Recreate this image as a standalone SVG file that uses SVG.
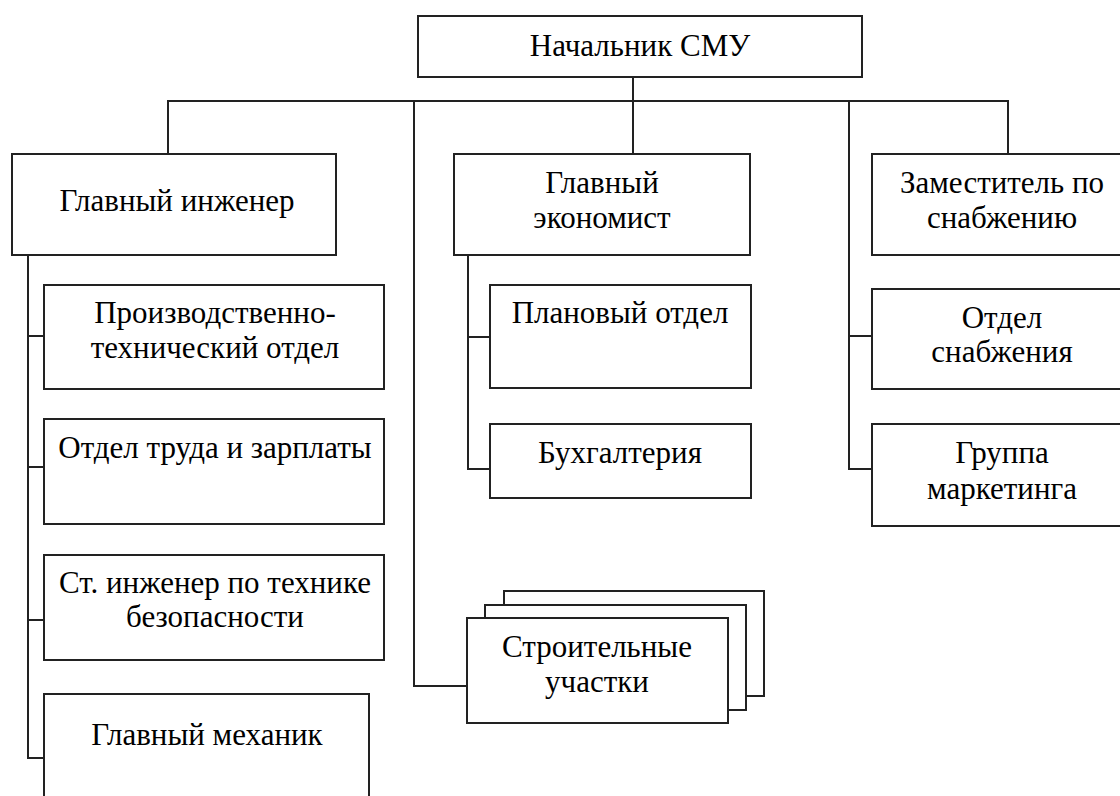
<svg xmlns="http://www.w3.org/2000/svg" width="1120" height="796" viewBox="0 0 1120 796">
<style>
.box{fill:#fff;stroke:#222;stroke-width:2}
.ln{fill:none;stroke:#222;stroke-width:2}
text{font-family:"Liberation Serif","Times New Roman",serif;font-size:31px;fill:#000;text-anchor:middle}
</style>
<rect width="1120" height="796" fill="#fff"/>
<g id="connectors">
<path class="ln" d="M633 77V101M168 154V101H1008V154M414 101V686H467M633 101V154M849 101V469H872M849 336H872"/>
<path class="ln" d="M28 255V758H44M28 336H44M28 467H44M28 620H44"/>
<path class="ln" d="M468 255V469H490M468 337H490"/>
</g>
<g id="n-head"><rect class="box" x="418" y="16" width="444" height="61"/><text x="640" y="56">Начальник СМУ</text></g>
<g id="n-engineer"><rect class="box" x="12" y="154" width="324" height="101"/><text x="177" y="211">Главный инженер</text></g>
<g id="n-economist"><rect class="box" x="454" y="154" width="296" height="101"/><text x="602" y="193">Главный</text><text x="602" y="228">экономист</text></g>
<g id="n-deputy"><rect class="box" x="872" y="154" width="262" height="101"/><text x="1002" y="193">Заместитель по</text><text x="1002" y="228">снабжению</text></g>
<g id="n-pto"><rect class="box" x="44" y="285" width="340" height="104"/><text x="215" y="323">Производственно-</text><text x="215" y="358">технический отдел</text></g>
<g id="n-labor"><rect class="box" x="44" y="419" width="340" height="105"/><text x="215" y="458">Отдел труда и зарплаты</text></g>
<g id="n-safety"><rect class="box" x="44" y="555" width="340" height="105"/><text x="215" y="593">Ст. инженер по технике</text><text x="215" y="627">безопасности</text></g>
<g id="n-mechanic"><rect class="box" x="44" y="694" width="325" height="130"/><text x="207" y="745">Главный механик</text></g>
<g id="n-plan"><rect class="box" x="490" y="285" width="261" height="103"/><text x="620" y="323">Плановый отдел</text></g>
<g id="n-account"><rect class="box" x="490" y="424" width="261" height="74"/><text x="620" y="463">Бухгалтерия</text></g>
<g id="n-sites">
<rect class="box" x="504" y="591" width="260" height="105"/>
<rect class="box" x="485" y="605" width="261" height="105"/>
<rect class="box" x="467" y="618" width="261" height="105"/>
<text x="597" y="657">Строительные</text><text x="597" y="692">участки</text>
</g>
<g id="n-supply"><rect class="box" x="872" y="289" width="262" height="100"/><text x="1002" y="328">Отдел</text><text x="1002" y="362">снабжения</text></g>
<g id="n-marketing"><rect class="box" x="872" y="424" width="262" height="102"/><text x="1002" y="463">Группа</text><text x="1002" y="499">маркетинга</text></g>
</svg>
